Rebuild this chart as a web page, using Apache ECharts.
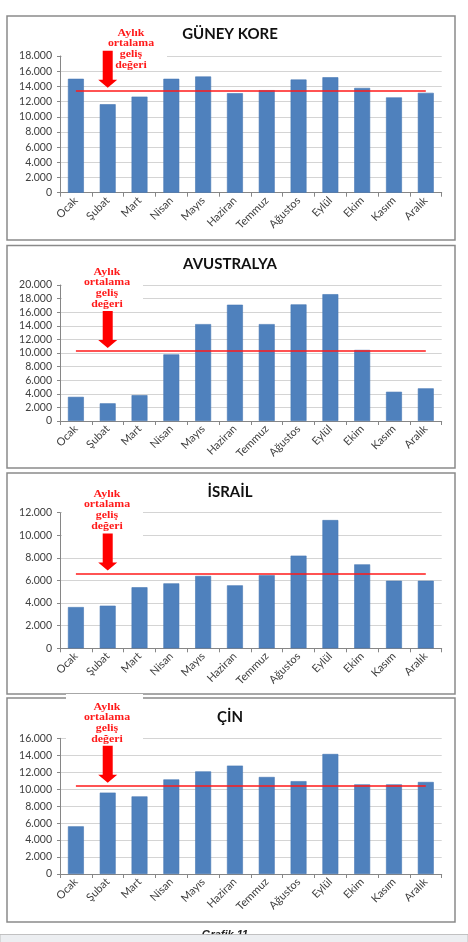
<!DOCTYPE html>
<html>
<head>
<meta charset="utf-8">
<script src="https://cdn.jsdelivr.net/npm/echarts@6/dist/echarts.min.js"></script>
<style>
	html,body{margin:0;padding:0;background:#fff;}
	#grafik{width:468px;height:942px;}
</style>
</head>
<body>
<div id="grafik"></div>
<script>
// aylar
var months = ['Ocak','Şubat','Mart','Nisan','Mayıs','Haziran','Temmuz','Ağustos','Eylül','Ekim','Kasım','Aralık'];

// ülke başına aylık geliş
var koreValues = [15000,11650,12650,15000,15300,13100,13500,14900,15200,13800,12550,13150];
var avustralyaValues = [3550,2600,3800,9800,14250,17100,14250,17150,18650,10450,4300,4800];
var israilValues = [3650,3770,5400,5750,6400,5570,6480,8200,11350,7430,5980,5980];
var cinValues = [5620,9600,9150,11150,12100,12780,11440,10950,14150,10570,10570,10850];

// aylık ortalama (kırmızı çizgi)
var koreAvg = 13430;
var avustralyaAvg = 10300;
var israilAvg = 6630;
var cinAvg = 10420;

// eksen üst sınırları
var titles = ['GÜNEY KORE','AVUSTRALYA','İSRAİL','ÇİN'];
var axisMax = [18000,20000,12000,16000];
var annotText = 'Aylık\nortalama\ngeliş\ndeğeri';

var panels = [
	{values:koreValues, avg:koreAvg, box:[7,16,448,224], top:56, h:136.7, titleY:34, noteX:131, noteY:27.6, mask:[62,26,105,45]},
	{values:avustralyaValues, avg:avustralyaAvg, box:[7,245.5,448,222.5], top:285, h:136, titleY:264, noteX:107, noteY:266.6, mask:[62,265,81,46]},
	{values:israilValues, avg:israilAvg, box:[7,473,448,221], top:512.7, h:135.6, titleY:492, noteX:107, noteY:488.6, mask:[62,487,81,50]},
	{values:cinValues, avg:cinAvg, box:[7,698,448,224], top:738.3, h:135.7, titleY:717, noteX:107, noteY:701.6, mask:[66,694,77,51]}
];

function dotted(v){
	return String(v).replace(/\B(?=(\d{3})+(?!\d))/g,'.');
}

var chart = echarts.init(document.getElementById('grafik'),null,{renderer:'canvas'});

var grids=[],xAxes=[],yAxes=[],series=[],graphics=[];
panels.forEach(function(p,i){
	grids.push({left:60,right:26.3,top:p.top,height:p.h,containLabel:false});
	xAxes.push({
		type:'category',gridIndex:i,data:months,
		axisLine:{lineStyle:{color:'#868686',width:1}},
		axisTick:{show:true,length:4,alignWithLabel:false,lineStyle:{color:'#868686'}},
		axisLabel:{rotate:45,margin:6,fontSize:11,color:'#404040',fontFamily:'Lato',interval:0}
	});
	yAxes.push({
		type:'value',gridIndex:i,min:0,max:axisMax[i],interval:2000,
		axisLine:{show:true,lineStyle:{color:'#868686',width:1}},
		axisTick:{show:true,length:3,lineStyle:{color:'#868686'}},
		splitLine:{lineStyle:{color:'#d4d4d4',width:1.2}},
		axisLabel:{fontSize:10.5,color:'#404040',fontFamily:'Lato',margin:8,formatter:dotted}
	});
	series.push({
		type:'bar',xAxisIndex:i,yAxisIndex:i,data:p.values,barWidth:'50%',
		itemStyle:{color:'#4f81bd',borderColor:'#4677b3',borderWidth:0.6},
		silent:true,
		markLine:{
			silent:true,symbol:'none',
			label:{show:false},
			lineStyle:{color:'#ff1a1a',width:1.6,type:'solid'},
			data:[[{coord:[months[0],p.avg]},{coord:[months[months.length-1],p.avg]}]]
		},
		z:2
	});
	// panel çerçevesi
	graphics.push({type:'rect',z:-10,shape:{x:p.box[0],y:p.box[1],width:p.box[2],height:p.box[3]},
		style:{fill:'#fff',stroke:'#8a8a8a',lineWidth:1.5}});
	// başlık
	graphics.push({type:'text',z:5,x:230,y:p.titleY,
		style:{text:titles[i],fontFamily:'Lato',fontWeight:'bold',fontSize:15,fill:'#111',align:'center',verticalAlign:'middle'}});
	// not kutusu (ızgarayı kapatır)
	graphics.push({type:'rect',z:1,shape:{x:p.mask[0],y:p.mask[1],width:p.mask[2],height:p.mask[3]},style:{fill:'#fff'}});
	graphics.push({type:'text',z:5,x:p.noteX,y:p.noteY,scaleX:1.08,
		style:{text:annotText,fontFamily:'Liberation Serif',fontWeight:'bold',fontSize:11,lineHeight:10.7,fill:'#ff1a1a',align:'center',verticalAlign:'top'}});
});

// alt yazı ve alt çubuk
graphics.push({type:'text',z:5,x:225,y:929,
	style:{text:'Grafik 11',fontFamily:'Liberation Sans',fontWeight:'bold',fontStyle:'italic',fontSize:11,fill:'#222',align:'center',verticalAlign:'top'}});
graphics.push({type:'rect',z:20,shape:{x:0,y:934.5,width:468,height:8},style:{fill:'#eceef1',stroke:'#b4b4b4',lineWidth:0.8}});

var option = {
	backgroundColor:'#fff',
	animation:false,
	grid:grids,
	xAxis:xAxes,
	yAxis:yAxes,
	series:series,
	graphic:graphics
};
chart.setOption(option);

// oklar: Şubat üstünde ortalama çizgisine işaret eder
var arrows=[];
panels.forEach(function(p,i){
	var tip = chart.convertToPixel({gridIndex:i},[months[1],p.avg]);
	var x=tip[0], y=tip[1]-3;
	arrows.push({type:'polygon',z:6,
		shape:{points:[[x-5,y-37],[x+5,y-37],[x+5,y-8],[x+9.5,y-8],[x,y],[x-9.5,y-8],[x-5,y-8]]},
		style:{fill:'#ff0000'}});
});
chart.setOption({graphic:graphics.concat(arrows)});
</script>
</body>
</html>
